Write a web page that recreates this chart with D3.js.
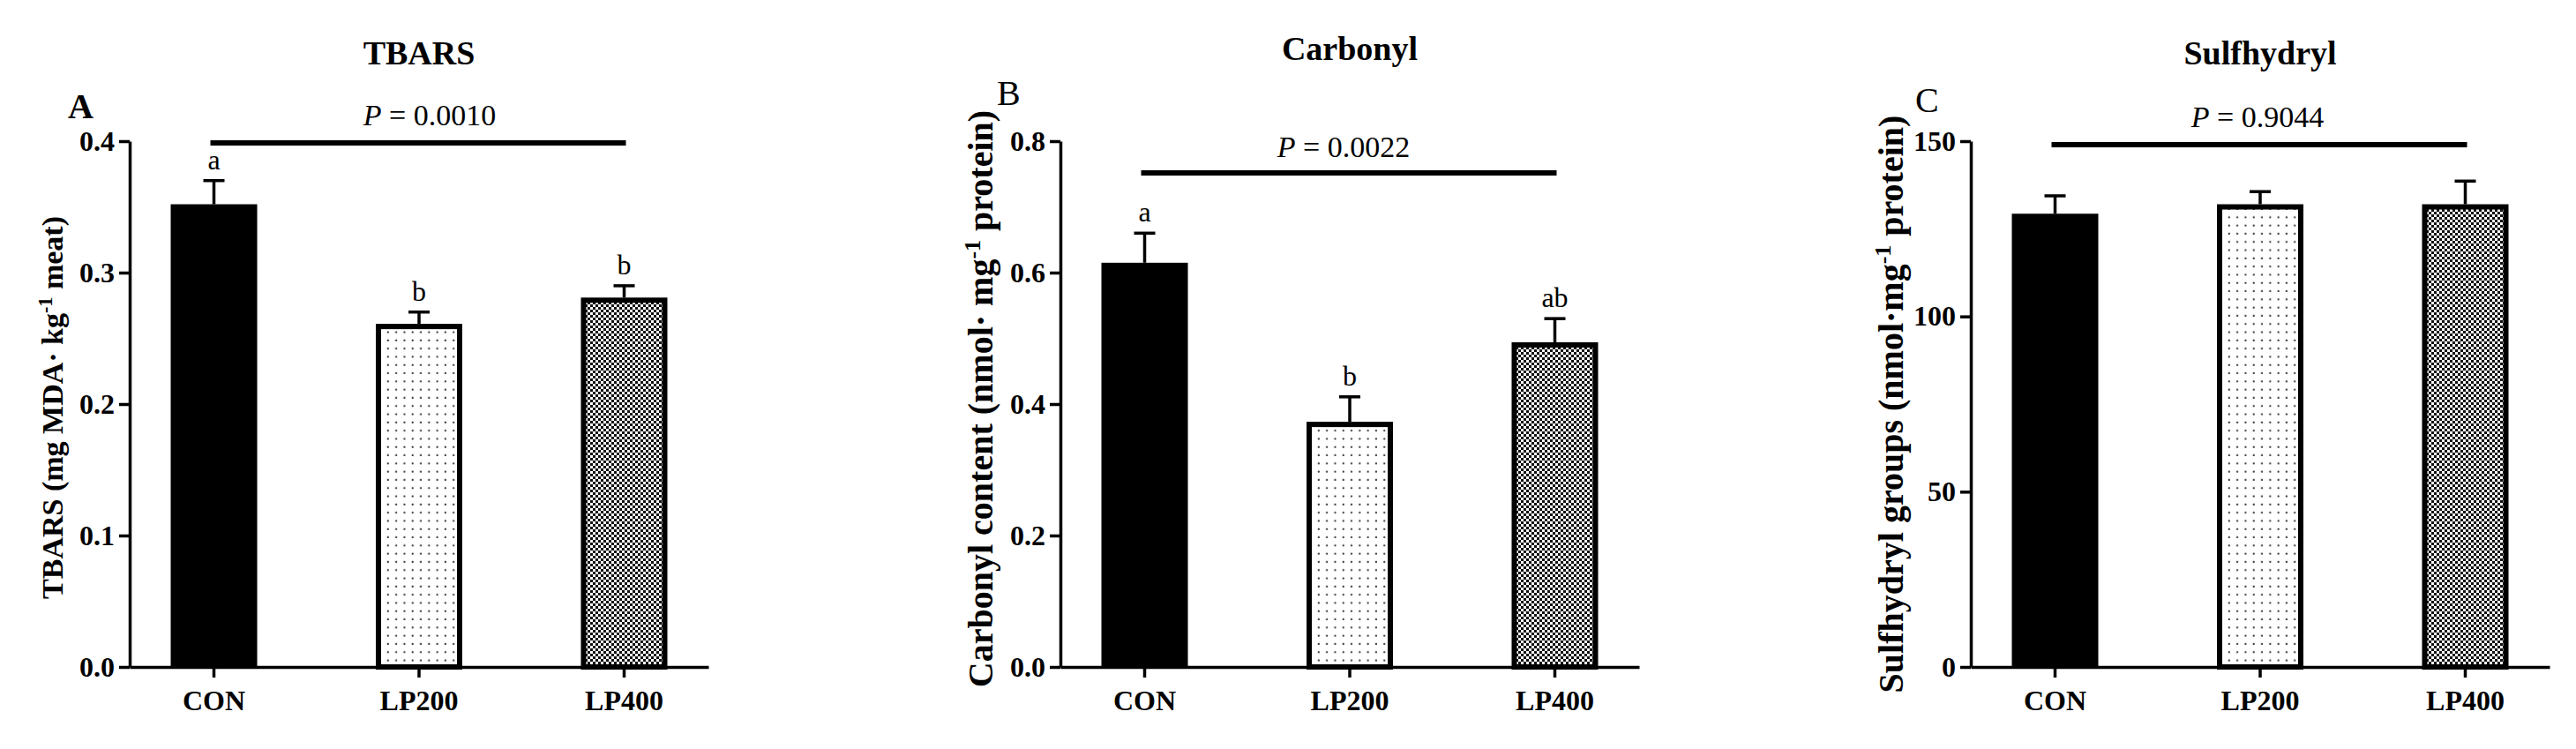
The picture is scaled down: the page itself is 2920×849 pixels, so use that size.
<!DOCTYPE html>
<html>
<head>
<meta charset="utf-8">
<script src="https://cdn.jsdelivr.net/npm/d3@7"></script>
<style>
  html, body { margin: 0; padding: 0; background: #fff; }
  svg { display: block; }
  text { font-family: "Liberation Serif", "Times New Roman", serif; fill: #000; }
</style>
</head>
<body>
<svg id="chart" width="2920" height="849"></svg>
<script>
// ---------------- DATA ----------------
const categories = ["CON", "LP200", "LP400"];

const tbarsMean = [0.352, 0.261, 0.281];
const tbarsErr  = [0.018, 0.009, 0.009];
const tbarsLetters = ["a", "b", "b"];
const tbarsTicks = [0, 0.1, 0.2, 0.3, 0.4];
const tbarsP = "0.0010";

const carbonylMean = [0.615, 0.373, 0.494];
const carbonylErr  = [0.045, 0.038, 0.036];
const carbonylLetters = ["a", "b", "ab"];
const carbonylTicks = [0, 0.2, 0.4, 0.6, 0.8];
const carbonylP = "0.0022";

const sulfMean = [129.3, 132.0, 132.0];
const sulfErr  = [5.1, 3.6, 6.6];
const sulfLetters = ["", "", ""];
const sulfTicks = [0, 50, 100, 150];
const sulfP = "0.9044";

// ---------------- LAYOUT ----------------
const svg = d3.select("#chart");
const plotTop = 160, plotBottom = 756, plotW = 656;

const defs = svg.append("defs");
const dots = defs.append("pattern").attr("id", "dots")
  .attr("patternUnits", "userSpaceOnUse").attr("width", 9.3).attr("height", 9.3);
dots.append("rect").attr("width", 9.3).attr("height", 9.3).attr("fill", "#fff");
dots.append("rect").attr("x", 3.5).attr("y", 3.5).attr("width", 2).attr("height", 2).attr("fill", "#333");

const checker = defs.append("pattern").attr("id", "checker")
  .attr("patternUnits", "userSpaceOnUse").attr("width", 6).attr("height", 6);
checker.append("rect").attr("width", 6).attr("height", 6).attr("fill", "#111");
checker.append("rect").attr("x", 0).attr("y", 0).attr("width", 3).attr("height", 3).attr("fill", "#fff");
checker.append("rect").attr("x", 3).attr("y", 3).attr("width", 3).attr("height", 3).attr("fill", "#fff");

const fills = ["#000", "url(#dots)", "url(#checker)"];

const panels = [
  { x0: 147, mean: tbarsMean, err: tbarsErr, letters: tbarsLetters, ticks: tbarsTicks, fmt: d3.format(".1f"),
    domain: [0, 0.4], title: "Carbonyl", p: tbarsP,
    titleText: "TBARS", titleY: 73,
    tag: "A", tagBold: true, tagX: 77, tagY: 134,
    pTextX: 487, pTextY: 142, pLineY: 162,
    yLabel: ["TBARS (mg MDA· kg", "-1", " meat)"], yLabelX: 59, yLabelY: 462, yLabelSize: 34 },
  { x0: 1202, mean: carbonylMean, err: carbonylErr, letters: carbonylLetters, ticks: carbonylTicks, fmt: d3.format(".1f"),
    domain: [0, 0.8], p: carbonylP,
    titleText: "Carbonyl", titleY: 68,
    tag: "B", tagBold: false, tagX: 1130, tagY: 119,
    pTextX: 1523, pTextY: 178, pLineY: 196,
    yLabel: ["Carbonyl content (nmol· mg", "-1", " protein)"], yLabelX: 1111, yLabelY: 452, yLabelSize: 40 },
  { x0: 2234, mean: sulfMean, err: sulfErr, letters: sulfLetters, ticks: sulfTicks, fmt: d3.format("d"),
    domain: [0, 150], p: sulfP,
    titleText: "Sulfhydryl", titleY: 73,
    tag: "C", tagBold: false, tagX: 2171, tagY: 127,
    pTextX: 2559, pTextY: 144, pLineY: 164,
    yLabel: ["Sulfhydryl groups (nmol·mg", "-1", " protein)"], yLabelX: 2143, yLabelY: 458, yLabelSize: 40 }
];

panels.forEach(P => {
  const g = svg.append("g").attr("transform", `translate(${P.x0},0)`);
  const x = d3.scaleBand().domain(categories).range([0, plotW])
    .paddingInner(0.5785).paddingOuter(0.2);
  const y = d3.scaleLinear().domain(P.domain).range([plotBottom, plotTop]);
  const bw = x.bandwidth();

  // bars
  const data = categories.map((c, i) => ({ c, i, m: P.mean[i], e: P.err[i], l: P.letters[i] }));
  const sw = 6;
  g.selectAll("rect.bar").data(data).enter().append("rect")
    .attr("class", "bar")
    .attr("x", d => d.i === 0 ? x(d.c) : x(d.c) + sw / 2)
    .attr("y", d => d.i === 0 ? y(d.m) : y(d.m) + sw / 2)
    .attr("width", d => d.i === 0 ? bw : bw - sw)
    .attr("height", d => d.i === 0 ? y(0) - y(d.m) : y(0) - y(d.m) - sw / 2)
    .attr("fill", d => fills[d.i])
    .attr("stroke", d => d.i === 0 ? "none" : "#000")
    .attr("stroke-width", sw);

  // error bars (upper only)
  const cx = d => x(d.c) + bw / 2;
  g.selectAll("line.err").data(data).enter().append("line")
    .attr("x1", cx).attr("x2", cx)
    .attr("y1", d => y(d.m)).attr("y2", d => y(d.m + d.e))
    .attr("stroke", "#000").attr("stroke-width", 3.5);
  g.selectAll("line.cap").data(data).enter().append("line")
    .attr("x1", d => cx(d) - 12).attr("x2", d => cx(d) + 12)
    .attr("y1", d => y(d.m + d.e)).attr("y2", d => y(d.m + d.e))
    .attr("stroke", "#000").attr("stroke-width", 3.5);

  // significance letters
  g.selectAll("text.let").data(data.filter(d => d.l)).enter().append("text")
    .attr("x", cx).attr("y", d => y(d.m + d.e) - 13)
    .attr("text-anchor", "middle").attr("font-size", 32)
    .text(d => d.l);

  // axes
  const yAxis = d3.axisLeft(y).tickValues(P.ticks).tickFormat(P.fmt)
    .tickSize(12).tickSizeOuter(0).tickPadding(5);
  const ya = g.append("g").call(yAxis);
  ya.selectAll("path, line").attr("stroke", "#000").attr("stroke-width", 3.5);
  ya.selectAll("text").attr("font-size", 32).attr("font-weight", "bold")
    .attr("font-family", "Liberation Serif, Times New Roman, serif").attr("fill", "#000");

  const xAxis = d3.axisBottom(x).tickSize(12).tickSizeOuter(0).tickPadding(14);
  const xa = g.append("g").attr("transform", `translate(0,${plotBottom})`).call(xAxis);
  xa.selectAll("path, line").attr("stroke", "#000").attr("stroke-width", 3.5);
  xa.selectAll("text").attr("font-size", 32).attr("font-weight", "bold")
    .attr("font-family", "Liberation Serif, Times New Roman, serif").attr("fill", "#000");

  // P-value line and text
  g.append("line")
    .attr("x1", x(categories[0]) + bw / 2 - 4)
    .attr("x2", x(categories[2]) + bw / 2 + 2)
    .attr("y1", P.pLineY).attr("y2", P.pLineY)
    .attr("stroke", "#000").attr("stroke-width", 6);
  const pt = svg.append("text").attr("x", P.pTextX).attr("y", P.pTextY)
    .attr("text-anchor", "middle").attr("font-size", 34);
  pt.append("tspan").attr("font-style", "italic").text("P");
  pt.append("tspan").text(" = " + P.p);

  // panel title
  svg.append("text").attr("x", P.x0 + plotW / 2).attr("y", P.titleY)
    .attr("text-anchor", "middle").attr("font-size", 38).attr("font-weight", "bold")
    .text(P.titleText);

  // panel tag
  svg.append("text").attr("x", P.tagX).attr("y", P.tagY)
    .attr("font-size", 40).attr("font-weight", P.tagBold ? "bold" : "normal")
    .text(P.tag);

  // y-axis title
  const yt = svg.append("text")
    .attr("transform", `translate(${P.yLabelX},${P.yLabelY}) rotate(-90)`)
    .attr("text-anchor", "middle").attr("dy", "0.35em")
    .attr("font-size", P.yLabelSize).attr("font-weight", "bold");
  yt.append("tspan").text(P.yLabel[0]);
  yt.append("tspan").attr("baseline-shift", "super").attr("font-size", P.yLabelSize * 0.65).text(P.yLabel[1]);
  yt.append("tspan").text(P.yLabel[2]);
});
</script>
</body>
</html>
